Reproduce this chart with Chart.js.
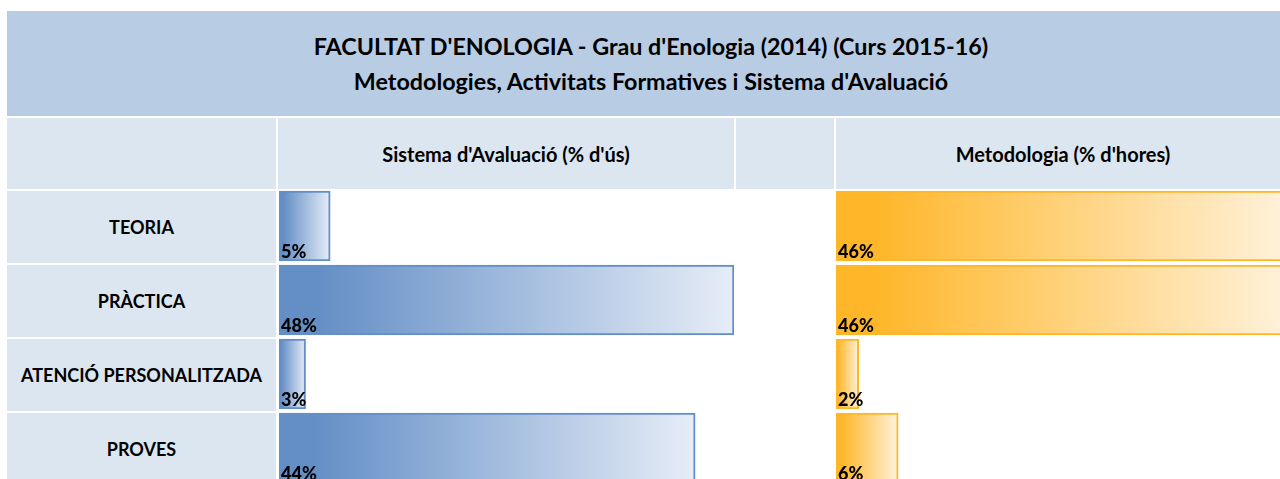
<!DOCTYPE html>
<html>
<head>
<meta charset="utf-8">
<script src="https://cdn.jsdelivr.net/npm/chart.js@4.4.0/dist/chart.umd.min.js"></script>
<style>
  html, body { margin: 0; padding: 0; background: #fff; overflow: hidden; width: 1280px; height: 479px; }
  body { position: relative; font-family: Lato, "Open Sans", sans-serif; font-weight: bold; color: #000; }
  .cell { position: absolute; display: flex; align-items: center; justify-content: center; text-align: center; white-space: nowrap; }
  .title { left: 7px; top: 11px; width: 1288px; height: 105px; background: #B8CCE4; flex-direction: column; font-size: 23.3px; line-height: 35px; }
  .head { top: 118px; height: 71px; background: #DCE6F1; font-size: 20px; }
  .label { left: 7px; width: 269px; height: 72px; background: #DCE6F1; font-size: 18px; }
  canvas { position: absolute; }
</style>
</head>
<body>
<div class="cell title"><div id="title1"></div><div id="title2"></div></div>
<div class="cell head" style="left:7px;width:269px"></div>
<div class="cell head" id="head1" style="left:278px;width:456px"></div>
<div class="cell head" style="left:736px;width:98px"></div>
<div class="cell head" id="head2" style="left:836px;width:454px"></div>
<div id="labels"></div>
<canvas id="evalChart" width="455" height="296" style="left:279px;top:189px"></canvas>
<canvas id="methChart" width="454" height="296" style="left:836px;top:189px"></canvas>
<script>
const titleLines = ["FACULTAT D'ENOLOGIA - Grau d'Enologia (2014) (Curs 2015-16)",
  "Metodologies, Activitats Formatives i Sistema d'Avaluació"];
const columnHeaders = ["Sistema d'Avaluació (% d'ús)", "Metodologia (% d'hores)"];
const categories = ["TEORIA", "PRÀCTICA", "ATENCIÓ PERSONALITZADA", "PROVES"];
const avaluacio = [5.4, 48, 2.8, 43.9];   // % d'ús
const metodologia = [46, 46, 2.3, 6.3];   // % d'hores

document.getElementById('title1').textContent = titleLines[0];
document.getElementById('title2').textContent = titleLines[1];
document.getElementById('head1').textContent = columnHeaders[0];
document.getElementById('head2').textContent = columnHeaders[1];

const labelBox = document.getElementById('labels');
categories.forEach((c, i) => {
  const d = document.createElement('div');
  d.className = 'cell label';
  d.style.top = (191 + i * 74) + 'px';
  d.textContent = c;
  labelBox.appendChild(d);
});

// gradient running from the bar colour at 0 to almost white at the bar end
function barFill(from, to) {
  return (ctx) => {
    const chart = ctx.chart;
    if (!chart.chartArea || ctx.type !== 'data') return from;
    const xs = chart.scales.x;
    const x0 = xs.getPixelForValue(0);
    const x1 = xs.getPixelForValue(ctx.raw);
    const g = chart.ctx.createLinearGradient(x0, 0, x1, 0);
    g.addColorStop(0, from);
    g.addColorStop(0.08, from);
    g.addColorStop(1, to);
    return g;
  };
}

const valueLabels = {
  id: 'valueLabels',
  afterDatasetsDraw(chart) {
    const ctx = chart.ctx;
    const values = chart.data.datasets[0].data;
    ctx.save();
    ctx.font = '900 18px Lato';
    ctx.fillStyle = '#000';
    ctx.textBaseline = 'alphabetic';
    chart.getDatasetMeta(0).data.forEach((bar, i) => {
      const p = bar.getProps(['y', 'base', 'height'], true);
      ctx.fillText(Math.round(values[i]) + '%', p.base + 2, p.y + p.height / 2 - 3);
    });
    ctx.restore();
  }
};

function makeChart(id, values, max, color, fade) {
  return new Chart(document.getElementById(id), {
    type: 'bar',
    data: {
      labels: categories,
      datasets: [{
        data: values,
        backgroundColor: barFill(color, fade),
        borderColor: color,
        borderWidth: 2,
        borderSkipped: false,
        barThickness: 70,
      }],
    },
    options: {
      indexAxis: 'y',
      responsive: false,
      animation: false,
      devicePixelRatio: 1,
      layout: { padding: 0 },
      plugins: { legend: { display: false }, tooltip: { enabled: false } },
      scales: {
        x: { display: false, min: 0, max: max },
        y: { display: false },
      },
    },
    plugins: [valueLabels],
  });
}

makeChart('evalChart', avaluacio, 48, '#638EC6', '#E6EDF7');
makeChart('methChart', metodologia, 46, '#FFB628', '#FFF2DC');
</script>
</body>
</html>
